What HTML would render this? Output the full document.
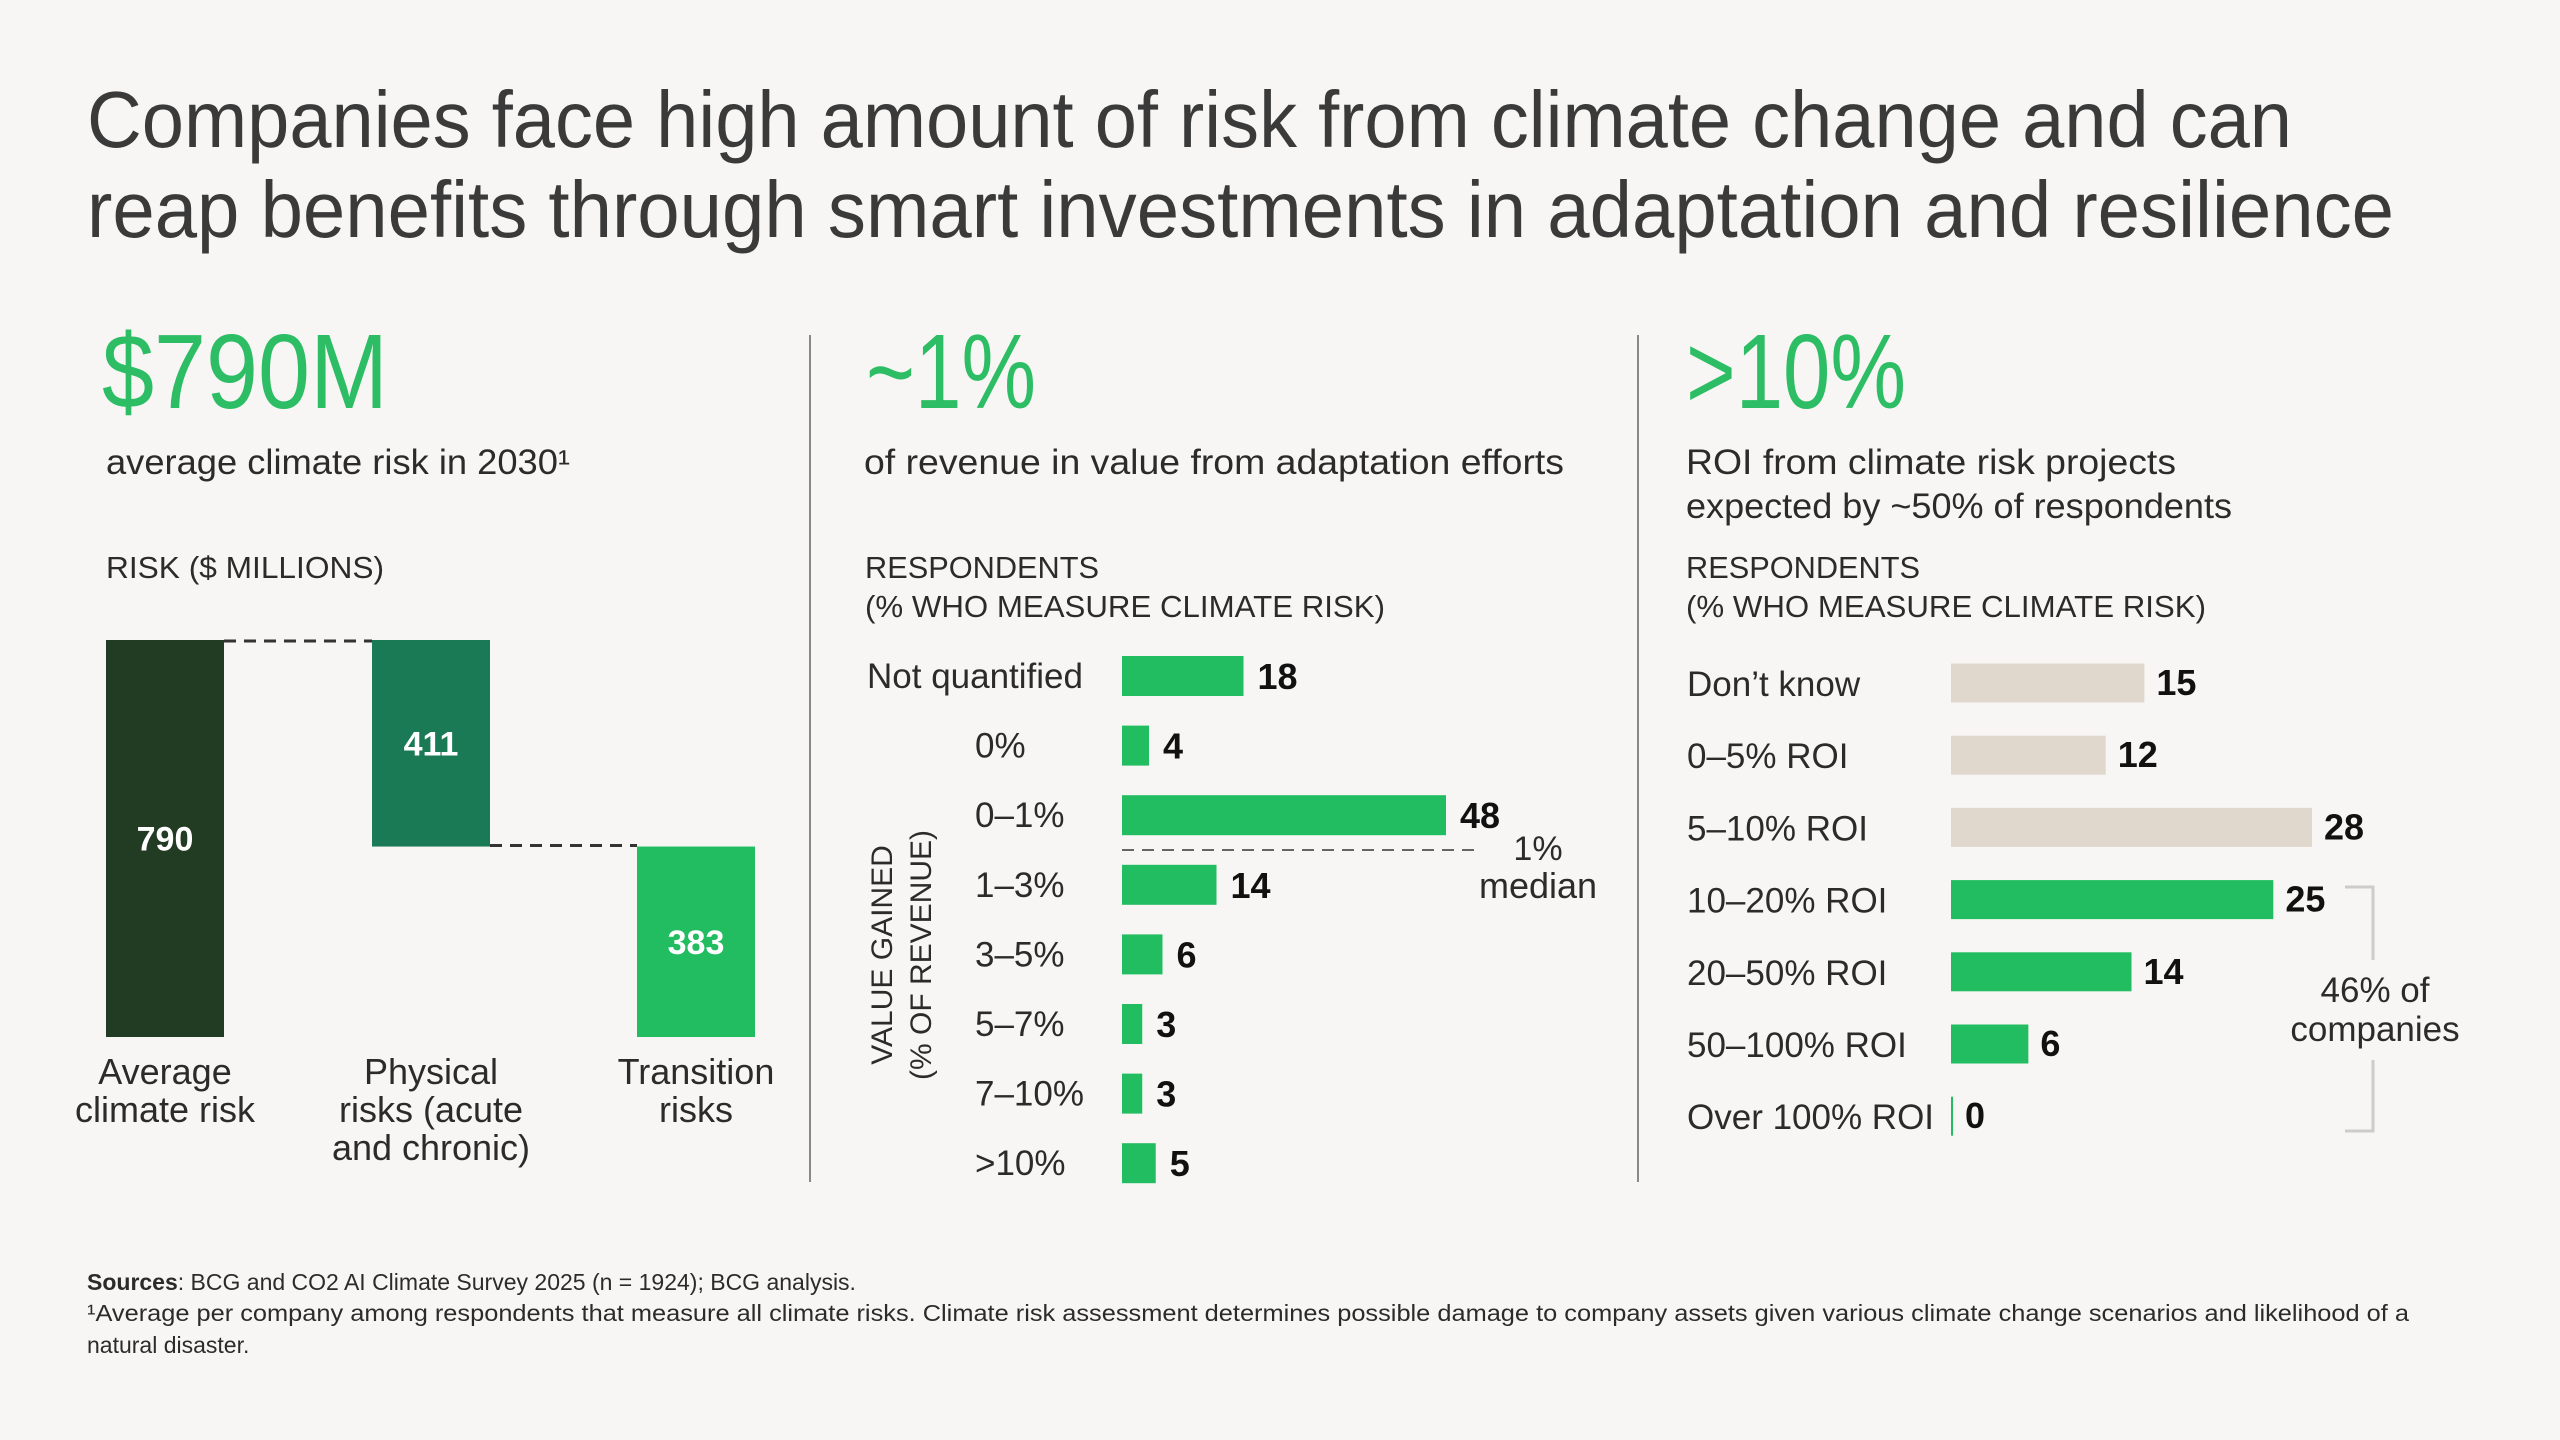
<!DOCTYPE html>
<html><head><meta charset="utf-8"><style>
html,body{margin:0;padding:0;background:#f7f6f4;}
svg{display:block;font-family:"Liberation Sans",sans-serif;}
.t{fill:#2b2b2b;}
.n{font-family:"Liberation Sans Narrow","Liberation Sans",sans-serif;}
</style></head><body>
<svg id="c" width="2560" height="1440" viewBox="0 0 2560 1440">
<rect width="2560" height="1440" fill="#f7f6f4"/>
<g fill="#3a3a3a" font-size="80">
<text x="87" y="147" textLength="2205" lengthAdjust="spacingAndGlyphs">Companies face high amount of risk from climate change and can</text>
<text x="87" y="237" textLength="2307" lengthAdjust="spacingAndGlyphs">reap benefits through smart investments in adaptation and resilience</text>
</g>
<g fill="#2dbd64" font-size="106">
<text x="102" y="408" textLength="286" lengthAdjust="spacingAndGlyphs">$790M</text>
<text x="866" y="408" textLength="170" lengthAdjust="spacingAndGlyphs">~1%</text>
<text x="1686" y="408" textLength="220" lengthAdjust="spacingAndGlyphs">&gt;10%</text>
</g>
<g class="t" font-size="35">
<text x="106" y="474" textLength="464" lengthAdjust="spacingAndGlyphs">average climate risk in 2030¹</text>
<text x="864" y="474" textLength="700" lengthAdjust="spacingAndGlyphs">of revenue in value from adaptation efforts</text>
<text x="1686" y="474" textLength="490" lengthAdjust="spacingAndGlyphs">ROI from climate risk projects</text>
<text x="1686" y="518" textLength="546" lengthAdjust="spacingAndGlyphs">expected by ~50% of respondents</text>
</g>
<g class="t" font-size="31">
<text x="106" y="578" textLength="278" lengthAdjust="spacingAndGlyphs">RISK ($ MILLIONS)</text>
<text x="865" y="578" textLength="234" lengthAdjust="spacingAndGlyphs">RESPONDENTS</text>
<text x="865" y="617" textLength="520" lengthAdjust="spacingAndGlyphs">(% WHO MEASURE CLIMATE RISK)</text>
<text x="1686" y="578" textLength="234" lengthAdjust="spacingAndGlyphs">RESPONDENTS</text>
<text x="1686" y="617" textLength="520" lengthAdjust="spacingAndGlyphs">(% WHO MEASURE CLIMATE RISK)</text>
</g>
<line x1="810" y1="335" x2="810" y2="1182" stroke="#888" stroke-width="2"/>
<line x1="1638" y1="335" x2="1638" y2="1182" stroke="#888" stroke-width="2"/>
<g id="wf"></g>
<g id="mid"></g>
<g id="roi"></g>
<g class="t" font-size="23">
<text x="87" y="1290"><tspan font-weight="bold">Sources</tspan>: BCG and CO2 AI Climate Survey 2025 (n = 1924); BCG analysis.</text>
<text x="87" y="1321" textLength="2322" lengthAdjust="spacingAndGlyphs">¹Average per company among respondents that measure all climate risks. Climate risk assessment determines possible damage to company assets given various climate change scenarios and likelihood of a</text>
<text x="87" y="1353">natural disaster.</text>
</g>
</svg>
<script>
const NS='http://www.w3.org/2000/svg';
function mk(p,tag,a,txt){const e=document.createElementNS(NS,tag);for(const k in a)e.setAttribute(k,a[k]);if(txt!==undefined)e.textContent=txt;p.appendChild(e);return e;}
// Waterfall data
const wfCategories=[["Average","climate risk"],["Physical","risks (acute","and chronic)"],["Transition","risks"]];
const wfValues=[790,411,383];
const wfColors=['#213c22','#1a7a55','#22bd60'];
// Middle chart data
const midCategories=["Not quantified","0%","0–1%","1–3%","3–5%","5–7%","7–10%",">10%"];
const midValues=[18,4,48,14,6,3,3,5];
const midMedianAfter=2;
// ROI chart data
const roiCategories=["Don’t know","0–5% ROI","5–10% ROI","10–20% ROI","20–50% ROI","50–100% ROI","Over 100% ROI"];
const roiValues=[15,12,28,25,14,6,0];
const roiHighlight=[false,false,false,true,true,true,true];

// Waterfall
(function(){
  const g=document.getElementById('wf');
  const base=1037, k=397/790, xs=[106,372,637], w=118;
  const y=v=>base-v*k;
  let top=wfValues[0];
  const tops=[wfValues[0], wfValues[0], wfValues[0]-wfValues[1]];
  const bots=[0, wfValues[0]-wfValues[1], 0];
  for(let i=0;i<3;i++){
    const r=mk(g,'rect',{x:xs[i],y:y(tops[i]),width:w,height:y(bots[i])-y(tops[i]),fill:wfColors[i]});
    
    
    const t=mk(g,'text',{x:xs[i]+w/2,y:(y(tops[i])+y(bots[i]))/2+12,'text-anchor':'middle',fill:'#fff','font-size':34,'font-weight':'bold',class:'n'},wfValues[i]);
    
    
    wfCategories[i].forEach((ln,j)=>{
      const c=mk(g,'text',{x:xs[i]+w/2,y:1084+j*38,'text-anchor':'middle','font-size':36,class:'t n'},ln);
      
      
    });
  }
  const d1=mk(g,'line',{x1:xs[0]+w,x2:xs[1],y1:y(tops[0])+1,y2:y(tops[0])+1,stroke:'#333','stroke-width':3,'stroke-dasharray':'12 8'});
  
  
  const d2=mk(g,'line',{x1:xs[1]+w,x2:xs[2],y1:y(bots[1])-1,y2:y(bots[1])-1,stroke:'#333','stroke-width':3,'stroke-dasharray':'12 8'});
  
  
})();

// Middle chart
(function(){
  const g=document.getElementById('mid');
  const x0=1122, k=324/48, y0=676, step=69.6, h=40;
  midCategories.forEach((c,i)=>{
    const cy=y0+i*step, w=midValues[i]*k;
    const r=mk(g,'rect',{x:x0,y:cy-h/2,width:Math.max(w,1),height:h,fill:'#22bd60'});
    
    
    const l=mk(g,'text',{x:i===0?867:975,y:cy+12,'font-size':35,class:'t n'},c);
    
    
    const v=mk(g,'text',{x:x0+w+14,y:cy+13,'font-size':36,'font-weight':'bold',fill:'#111',class:'n'},midValues[i]);
    
    
  });
  const my=y0+(midMedianAfter+0.5)*step;
  const ml=mk(g,'line',{x1:x0,x2:1478,y1:my,y2:my,stroke:'#666','stroke-width':2,'stroke-dasharray':'12 8'});
  
  
  const m1=mk(g,'text',{x:1538,y:my+10,'text-anchor':'middle','font-size':34,class:'t n'},'1%');
  
  
  const m2=mk(g,'text',{x:1538,y:my+48,'text-anchor':'middle','font-size':36,class:'t n'},'median');
  
  
  const ax=mk(g,'text',{transform:'translate(892,955) rotate(-90)','text-anchor':'middle','font-size':30,class:'t'},'VALUE GAINED');
  
  
  const ax2=mk(g,'text',{transform:'translate(931,955) rotate(-90)','text-anchor':'middle','font-size':30,class:'t'},'(% OF REVENUE)');
  
  
})();

// ROI chart
(function(){
  const g=document.getElementById('roi');
  const x0=1951, k=361/28, y0=683, step=72.2, h=39;
  roiCategories.forEach((c,i)=>{
    const cy=y0+i*step, w=roiValues[i]*k;
    const r=mk(g,'rect',{x:x0,y:cy-h/2,width:Math.max(w,2),height:h,fill:roiHighlight[i]?'#22bd60':'#e0d8cd'});
    
    
    const l=mk(g,'text',{x:1687,y:cy+13,'font-size':35,class:'t n'},c);
    
    
    const v=mk(g,'text',{x:x0+Math.max(w,2)+12,y:cy+12,'font-size':36,'font-weight':'bold',fill:'#111',class:'n'},roiValues[i]);
    
    
  });
  const b=mk(g,'path',{d:'M2345,887 H2373 V1131 H2345',fill:'none',stroke:'#ccc','stroke-width':3});
  
  
  const bg=mk(g,'rect',{x:2283,y:960,width:182,height:100,fill:'#f7f6f4'});
  
  
  const t1=mk(g,'text',{x:2375,y:1002,'text-anchor':'middle','font-size':35,class:'t n'},'46% of');
  
  
  const t2=mk(g,'text',{x:2375,y:1041,'text-anchor':'middle','font-size':35,class:'t n'},'companies');
  
  
})();
</script>
</body></html>
